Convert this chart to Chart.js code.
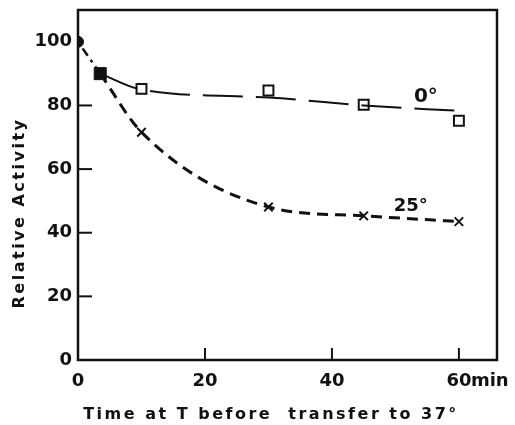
<!DOCTYPE html>
<html>
<head>
<meta charset="utf-8">
<script src="https://cdn.jsdelivr.net/npm/chart.js@4/dist/chart.umd.min.js"></script>
<style>
  html, body { margin: 0; padding: 0; background: #fff; }
  #wrap { width: 515px; height: 425px; }
</style>
</head>
<body>
<div id="wrap"><canvas id="activityChart"></canvas></div>
<script>
// values
const xTicks = [0, 20, 40, 60];
const yTicks = [0, 20, 40, 60, 80, 100];

const startTime = [0];
const startActivity = [100];
const firstTime = [3.5];
const firstActivity = [90];

const sampleTimes = [10, 30, 45, 60];
const activity0 = [85.2, 84.7, 80.2, 75.2];
const activity25 = [71.6, 48.1, 45.3, 43.5];

const fit0Times = [3.5, 10, 30, 45, 60];
const fit0Values = [90, 85, 82.5, 80, 78.3];
const fit25Times = [3.5, 10, 30, 45, 60];
const fit25Values = [90, 71.6, 48.1, 45.3, 43.5];

const ink = '#111';
const fontFamily = '"DejaVu Sans", sans-serif';

function pts(xs, ys) {
    return xs.map((x, i) => ({ x: x, y: ys[i] }));
}

// frame, inward ticks, curve labels and axis titles
const decorations = {
    id: 'decorations',
    afterDraw(chart) {
        const ctx = chart.ctx;
        const area = chart.chartArea;
        const xs = chart.scales.x;
        const ys = chart.scales.y;
        ctx.save();
        ctx.strokeStyle = ink;
        ctx.lineWidth = 2.5;
        ctx.strokeRect(area.left, area.top, area.right - area.left, area.bottom - area.top);

        ctx.lineWidth = 2;
        [20, 40, 60, 80].forEach(v => {
            const py = ys.getPixelForValue(v);
            ctx.beginPath();
            ctx.moveTo(area.left, py);
            ctx.lineTo(area.left + 14, py);
            ctx.stroke();
        });
        [20, 40, 60].forEach(v => {
            const px = xs.getPixelForValue(v);
            ctx.beginPath();
            ctx.moveTo(px, area.bottom);
            ctx.lineTo(px, area.bottom - 12);
            ctx.stroke();
        });

        ctx.fillStyle = ink;
        ctx.textBaseline = 'middle';
        ctx.font = 'bold 18px ' + fontFamily;
        ctx.textAlign = 'left';
        ctx.fillText('min', xs.getPixelForValue(60) + 12, area.bottom + 21);

        ctx.textAlign = 'center';
        ctx.font = 'bold 20px ' + fontFamily;
        ctx.fillText('0°', xs.getPixelForValue(54.8), ys.getPixelForValue(82.8));
        ctx.font = 'bold 18px ' + fontFamily;
        ctx.fillText('25°', xs.getPixelForValue(52.4), ys.getPixelForValue(48.4));

        ctx.letterSpacing = '2.5px';
        ctx.font = 'bold 16px ' + fontFamily;
        ctx.fillText('Time at T before  transfer to 37°', 271, 415);

        ctx.translate(20, 213);
        ctx.rotate(-Math.PI / 2);
        ctx.fillText('Relative Activity', 0, 0);
        ctx.restore();
    }
};

function createChart() {
    const ctx = document.getElementById('activityChart').getContext('2d');

    new Chart(ctx, {
        type: 'scatter',
        data: {
            datasets: [
                {
                    label: 'start',
                    data: pts(startTime.concat(firstTime), startActivity.concat(firstActivity)),
                    showLine: true,
                    borderColor: ink,
                    borderWidth: 2.5,
                    borderDash: [3, 5, 9, 5],
                    pointRadius: 0
                },
                {
                    label: '0° fit',
                    data: pts(fit0Times, fit0Values),
                    showLine: true,
                    borderColor: ink,
                    borderWidth: 2,
                    borderDash: [40, 13],
                    cubicInterpolationMode: 'monotone',
                    pointRadius: 0
                },
                {
                    label: '25° fit',
                    data: pts(fit25Times, fit25Values),
                    showLine: true,
                    borderColor: ink,
                    borderWidth: 3,
                    borderDash: [11, 7],
                    cubicInterpolationMode: 'monotone',
                    pointRadius: 0
                },
                {
                    label: '0°',
                    data: pts(sampleTimes, activity0),
                    pointStyle: 'rect',
                    pointRadius: 7,
                    pointBorderWidth: 2,
                    borderColor: ink,
                    backgroundColor: '#fff'
                },
                {
                    label: '25°',
                    data: pts(sampleTimes, activity25),
                    pointStyle: 'crossRot',
                    pointRadius: 6,
                    pointBorderWidth: 2,
                    borderColor: ink
                },
                {
                    label: 'start point',
                    data: pts(startTime, startActivity),
                    pointStyle: 'circle',
                    pointRadius: 5.5,
                    borderColor: ink,
                    backgroundColor: ink
                },
                {
                    label: 'first point',
                    data: pts(firstTime, firstActivity),
                    pointStyle: 'rect',
                    pointRadius: 8.5,
                    borderColor: ink,
                    backgroundColor: ink
                }
            ]
        },
        options: {
            responsive: true,
            maintainAspectRatio: false,
            animation: false,
            layout: { padding: { top: 10, right: 18, left: 0, bottom: 0 } },
            plugins: {
                legend: { display: false },
                tooltip: { enabled: false }
            },
            scales: {
                x: {
                    type: 'linear',
                    min: 0,
                    max: 66,
                    afterBuildTicks: s => { s.ticks = xTicks.map(v => ({ value: v })); },
                    afterFit: s => { s.height = 65; s.paddingRight = 0; s.paddingLeft = 0; },
                    grid: { display: false, drawTicks: false },
                    border: { display: false },
                    ticks: {
                        color: ink,
                        padding: 11,
                        maxRotation: 0,
                        font: { family: fontFamily, size: 18, weight: 'bold' }
                    }
                },
                y: {
                    min: 0,
                    max: 110,
                    afterBuildTicks: s => { s.ticks = yTicks.map(v => ({ value: v })); },
                    afterFit: s => { s.width = 78; s.paddingTop = 0; s.paddingBottom = 0; },
                    grid: { display: false, drawTicks: false },
                    border: { display: false },
                    ticks: {
                        color: ink,
                        padding: 6,
                        font: { family: fontFamily, size: 18, weight: 'bold' }
                    }
                }
            }
        },
        plugins: [decorations]
    });
}

window.onload = function () {
    createChart();
};
</script>
</body>
</html>
